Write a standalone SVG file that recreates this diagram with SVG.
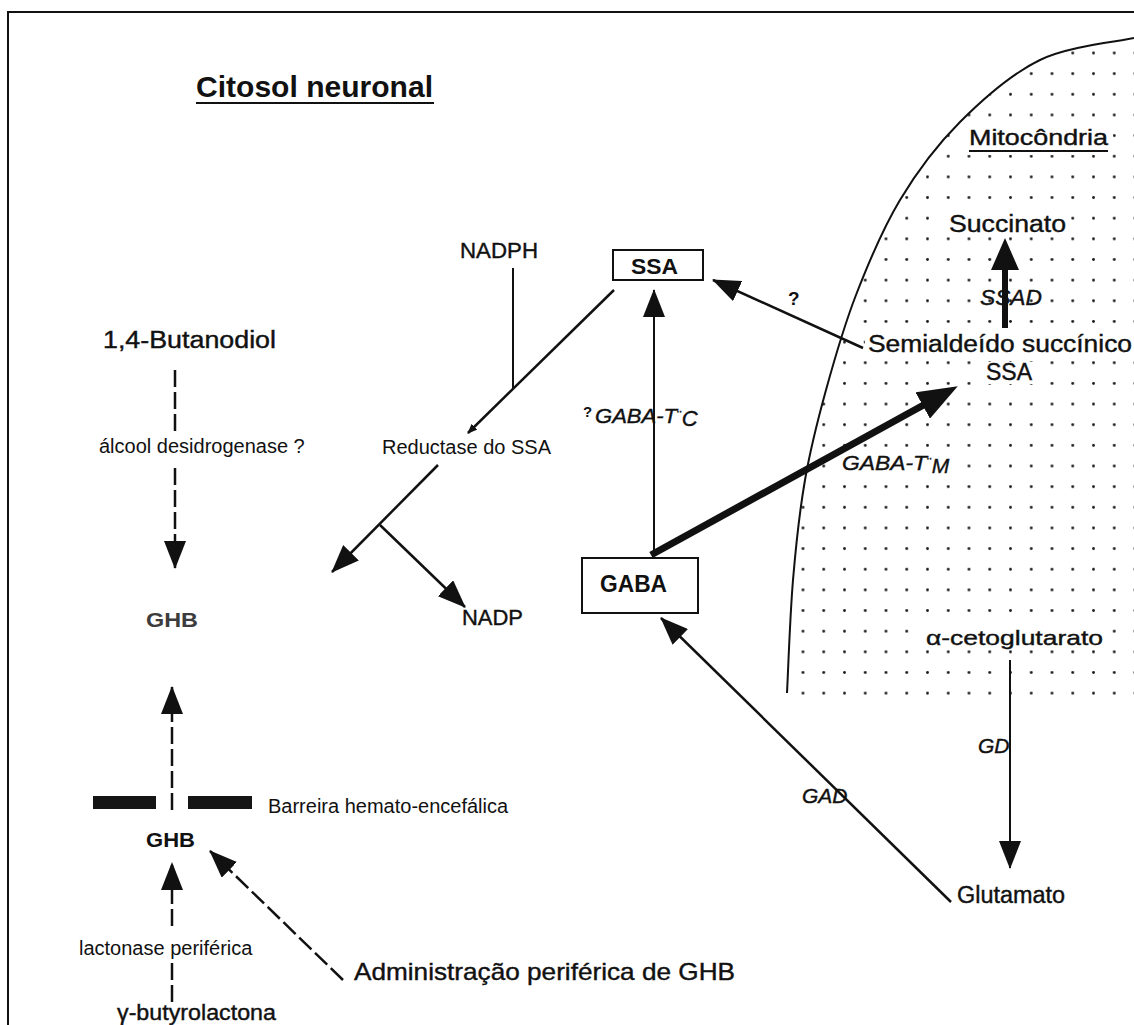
<svg xmlns="http://www.w3.org/2000/svg" width="1134" height="1025" viewBox="0 0 1134 1025">
<style>
text{font-family:"Liberation Sans",Arial,sans-serif;fill:#111}
.b{font-weight:bold}
.i{font-style:italic}
.m{stroke:#111;stroke-width:0.4}
.ln{stroke:#111;stroke-width:2.5;fill:none}
.thin{stroke:#111;stroke-width:2;fill:none}
.dash{stroke:#111;stroke-width:2.5;fill:none;stroke-dasharray:17 5}
.box{fill:#fff;stroke:#111;stroke-width:2}
.bg{fill:#fff}
</style>
<defs>
<marker id="ah" markerUnits="userSpaceOnUse" markerWidth="28" markerHeight="22" viewBox="0 0 28 22" refX="27" refY="11" orient="auto"><path d="M0,0 L28,11 L0,22 Z" fill="#111"/></marker>
<marker id="ahS" markerUnits="userSpaceOnUse" markerWidth="10" markerHeight="8" viewBox="0 0 10 8" refX="9" refY="4" orient="auto"><path d="M0,0 L10,4 L0,8 Z" fill="#111"/></marker>
<marker id="ahBig" markerUnits="userSpaceOnUse" markerWidth="40" markerHeight="30" viewBox="0 0 40 30" refX="30" refY="15" orient="auto"><path d="M0,0 L40,15 L0,30 Z" fill="#111"/></marker>
<marker id="ahMid" markerUnits="userSpaceOnUse" markerWidth="32" markerHeight="28" viewBox="0 0 32 28" refX="24" refY="14" orient="auto"><path d="M0,0 L32,14 L0,28 Z" fill="#111"/></marker>
<pattern id="dots" patternUnits="userSpaceOnUse" x="792.6" y="42.7" width="20.75" height="20.65"><circle cx="10.4" cy="10.3" r="1.45" fill="#1a1a1a"/></pattern>
<clipPath id="mitoClip"><path d="M1134,38 C1118.3,41.7 1069,46 1040,60 C1011,74 983.3,98.7 960,122 C936.7,145.3 917.3,171.2 900,200 C882.7,228.8 868.3,263.3 856,295 C843.7,326.7 834.5,359.2 826,390 C817.5,420.8 810.5,448.3 805,480 C799.5,511.7 796,544.5 793,580 C790,615.5 788,674.2 787,693 L787,698 L1134,698 Z"/></clipPath>
</defs>
<rect width="1134" height="1025" fill="#fff"/>
<g id="frame"><path d="M8,1025 L8,12 L1134,12" stroke="#111" stroke-width="2" fill="none"/></g>
<g id="mitochondrion">
<rect x="780" y="30" width="354" height="668" fill="url(#dots)" clip-path="url(#mitoClip)"/>
<path d="M1134,38 C1118.3,41.7 1069,46 1040,60 C1011,74 983.3,98.7 960,122 C936.7,145.3 917.3,171.2 900,200 C882.7,228.8 868.3,263.3 856,295 C843.7,326.7 834.5,359.2 826,390 C817.5,420.8 810.5,448.3 805,480 C799.5,511.7 796,544.5 793,580 C790,615.5 788,674.2 787,693" stroke="#111" stroke-width="2" fill="none"/>
</g>
<g id="title-citosol"><text class="b" x="196" y="97" font-size="30" textLength="237" lengthAdjust="spacingAndGlyphs">Citosol neuronal</text><line x1="196" y1="103" x2="434" y2="103" stroke="#111" stroke-width="2"/></g>
<g id="title-mitocondria"><rect class="bg" x="965" y="127" width="148" height="28"/><text class="m" x="969" y="145" font-size="22" textLength="139" lengthAdjust="spacingAndGlyphs">Mitocôndria</text><line x1="969" y1="151" x2="1108" y2="151" stroke="#111" stroke-width="2"/></g>
<g id="node-succinato"><rect class="bg" x="945" y="213" width="125" height="24"/><text class="m" x="949" y="232" font-size="23" textLength="117" lengthAdjust="spacingAndGlyphs">Succinato</text></g>
<g id="node-ssa-mito"><rect class="bg" x="865" y="334" width="269" height="23"/><text class="m" x="868" y="352" font-size="23" textLength="264" lengthAdjust="spacingAndGlyphs">Semialdeído succínico</text><rect class="bg" x="982" y="362" width="56" height="22"/><text class="m" x="986" y="380" font-size="23">SSA</text></g>
<g id="label-ssad"><text class="i m" x="980" y="305" font-size="22" textLength="62" lengthAdjust="spacingAndGlyphs">SSAD</text></g>
<g id="label-q"><text class="b" x="788" y="305" font-size="19">?</text></g>
<g id="label-gabatm"><rect class="bg" x="838" y="456" width="122" height="22"/><text class="i m" x="842" y="470" font-size="21"><tspan textLength="85" lengthAdjust="spacingAndGlyphs">GABA-T</tspan><tspan font-size="14" font-style="normal" dy="-2">¨</tspan><tspan dy="5">M</tspan></text></g>
<g id="node-aceto"><rect class="bg" x="922" y="628" width="185" height="21"/><text class="m" x="926" y="645" font-size="21" textLength="177" lengthAdjust="spacingAndGlyphs">α-cetoglutarato</text></g>
<g id="label-gd"><text class="i m" x="978" y="753" font-size="21">GD</text></g>
<g id="label-gad"><text class="i m" x="802" y="803" font-size="21">GAD</text></g>
<g id="node-glutamato"><text class="m" x="957" y="903" font-size="23" textLength="108" lengthAdjust="spacingAndGlyphs">Glutamato</text></g>
<g id="node-ssa"><rect class="box" x="613" y="250" width="90" height="30"/><text class="b" x="631" y="274" font-size="22" textLength="47" lengthAdjust="spacingAndGlyphs">SSA</text></g>
<g id="node-gaba"><rect class="box" x="582" y="558" width="116" height="55"/><text class="b" x="600" y="592" font-size="23" textLength="67" lengthAdjust="spacingAndGlyphs">GABA</text></g>
<g id="label-gabatc"><text x="583" y="417" font-size="15" class="b">?</text><text class="i m" x="595" y="423" font-size="21"><tspan textLength="82" lengthAdjust="spacingAndGlyphs">GABA-T</tspan><tspan font-size="14" font-style="normal" dy="-2">¨</tspan><tspan dy="5" font-size="22">C</tspan></text></g>
<g id="node-nadph"><text class="m" x="460" y="258" font-size="22" textLength="78" lengthAdjust="spacingAndGlyphs">NADPH</text></g>
<g id="label-reductase"><text x="382" y="454" font-size="20">Reductase do SSA</text></g>
<g id="node-nadp"><text class="m" x="462" y="625" font-size="22" textLength="61" lengthAdjust="spacingAndGlyphs">NADP</text></g>
<g id="node-butanodiol"><text class="m" x="103" y="348" font-size="23" textLength="173" lengthAdjust="spacingAndGlyphs">1,4-Butanodiol</text></g>
<g id="label-alcool"><text x="99" y="453" font-size="20">álcool desidrogenase ?</text></g>
<g id="node-ghb-brain"><text class="b" x="146" y="627" font-size="21" textLength="52" lengthAdjust="spacingAndGlyphs" style="fill:#3c3c3c">GHB</text></g>
<g id="barrier"><rect x="93" y="796" width="63" height="13" fill="#151515"/><rect x="188" y="796" width="64" height="13" fill="#151515"/><text x="268" y="813" font-size="20">Barreira hemato-encefálica</text></g>
<g id="node-ghb-periph"><text class="b" x="146" y="847" font-size="21" textLength="49" lengthAdjust="spacingAndGlyphs">GHB</text></g>
<g id="label-lactonase"><text x="79" y="955" font-size="20">lactonase periférica</text></g>
<g id="node-gbl"><text class="m" x="117" y="1020" font-size="22" textLength="159" lengthAdjust="spacingAndGlyphs">γ-butyrolactona</text></g>
<g id="node-admin"><text class="m" x="354" y="980" font-size="24" textLength="381" lengthAdjust="spacingAndGlyphs">Administração periférica de GHB</text></g>
<g id="connectors">
<path class="dash" d="M175,370 L175,432"/>
<path class="dash" d="M175,468 L175,568" marker-end="url(#ah)"/>
<path class="dash" d="M172,810 L172,687" marker-end="url(#ah)"/>
<path class="dash" d="M172,926 L172,863" marker-end="url(#ah)"/>
<path class="dash" d="M172,963 L172,1002"/>
<path class="dash" d="M343,980 L210,851" marker-end="url(#ah)"/>
<path class="thin" d="M513,268 L513,388"/>
<path class="ln" d="M614,290 L468,433" marker-end="url(#ahS)"/>
<path class="ln" d="M438,465 L332,572" marker-end="url(#ah)"/>
<path class="ln" d="M380,525 L465,607" marker-end="url(#ah)"/>
<path class="thin" d="M654,556 L654,290" marker-end="url(#ah)"/>
<path d="M651,555 L949,391" stroke="#111" stroke-width="7" fill="none" marker-end="url(#ahBig)"/>
<path class="ln" d="M863,348 L713,280" marker-end="url(#ah)"/>
<path d="M1005,328 L1005,246" stroke="#111" stroke-width="6" fill="none" marker-end="url(#ahMid)"/>
<path class="thin" d="M1010,660 L1010,868" marker-end="url(#ah)"/>
<path class="ln" d="M951,902 L661,618" marker-end="url(#ah)"/>
</g>
</svg>
